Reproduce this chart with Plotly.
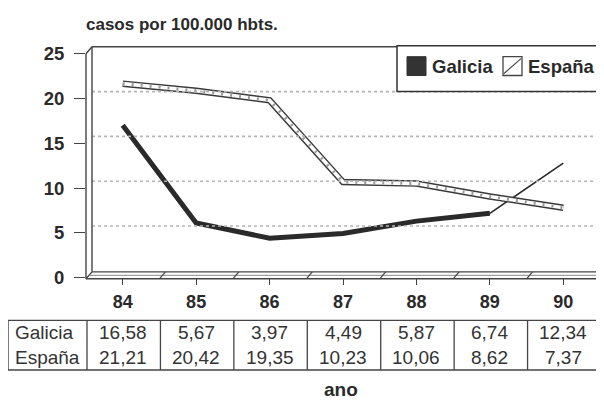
import plotly.graph_objects as go

# ---- data ----
years = ["84", "85", "86", "87", "88", "89", "90"]
galicia = [16.58, 5.67, 3.97, 4.49, 5.87, 6.74, 12.34]
espana = [21.21, 20.42, 19.35, 10.23, 10.06, 8.62, 7.37]
y_ticks = [0, 5, 10, 15, 20, 25]
series_names = ["Galicia", "España"]
title_text = "casos por 100.000 hbts."
x_title = "ano"

W, H = 604, 403
FONT = "Liberation Sans, Arial, Helvetica, sans-serif"
INK = "#2a2a2a"

# mapping from target picture pixels to paper fractions
# (page offsets the figure by 8px horizontally; vertical offset/scale measured)
OFFX, OFFY, SY = 8.0, 17.0, 0.956


def px(x):
    return (x - OFFX) / W


def py(y):
    return 1 - ((y - OFFY) / SY) / H


# plot geometry (target pixels)
X0, X1 = 86, 600
Y0, Y1 = 278, 52
DX, DY = 6, 7  # depth of the 3D frame
n = len(years)
step = (X1 - X0) / n
unit = (Y0 - Y1) / 25.0

fig = go.Figure()

# anchor trace for the front (labelled) axes
fig.add_trace(go.Scatter(x=years, y=[None] * n, mode="markers",
                         marker=dict(opacity=0), showlegend=False,
                         hoverinfo="skip"))
# Galicia: thick up to 89, thin from 89 to 90
fig.add_trace(go.Scatter(x=years[:6], y=galicia[:6], mode="lines", yaxis="y2",
                         line=dict(color=INK, width=5), showlegend=False,
                         hoverinfo="skip"))
fig.add_trace(go.Scatter(x=years[5:], y=galicia[5:], mode="lines", yaxis="y2",
                         line=dict(color=INK, width=1.6), showlegend=False,
                         hoverinfo="skip"))
# España: hollow hatched ribbon
fig.add_trace(go.Scatter(x=years, y=espana, mode="lines", yaxis="y2",
                         line=dict(color="#3a3a3a", width=6.5), showlegend=False,
                         hoverinfo="skip"))
fig.add_trace(go.Scatter(x=years, y=espana, mode="lines", yaxis="y2",
                         line=dict(color="white", width=3.6), showlegend=False,
                         hoverinfo="skip"))
fig.add_trace(go.Scatter(x=years, y=espana, mode="lines", yaxis="y2",
                         line=dict(color="#9a9a9a", width=3.0, dash="2px,7px"),
                         showlegend=False, hoverinfo="skip"))

shapes = []
LC = "#444444"


def seg(x0, y0, x1, y1, color=LC, width=1.4, dash=None):
    d = dict(type="line", xref="paper", yref="paper",
             x0=px(x0), y0=py(y0), x1=px(x1), y1=py(y1),
             line=dict(color=color, width=width))
    if dash:
        d["line"]["dash"] = dash
    shapes.append(d)


# back-wall gridlines (dotted)
for v in y_ticks[1:-1]:
    yy = Y0 - unit * v - DY
    seg(X0 + DX, yy, W, yy, color="#b5b5b5", width=1.6, dash="dot")

# 3D frame
seg(X0, Y0 + 1, X0, Y1)                      # front-left edge
seg(X0 + DX, Y0 + 1 - DY, X0 + DX, Y1 - DY)  # back-left edge
seg(X0, Y1, X0 + DX, Y1 - DY)                # top-left diagonal
seg(X0 + DX, Y1 - DY, W, Y1 - DY)            # top edge of back wall
seg(X0, Y0 + 1, X0 + DX, Y0 + 1 - DY)        # bottom-left diagonal
seg(X0 + DX, Y0 + 1 - DY, W, Y0 + 1 - DY)    # floor back edge
seg(X0, Y0 + 1, W, Y0 + 1)                   # floor front edge
seg(X0 + 3, Y0 - 2.5, W, Y0 - 2.5, color="#888888", width=1)
# floor dividers between categories
for k in range(1, n):
    xb = X0 + step * k
    seg(xb, Y0 + 1, xb + DX, Y0 + 1 - DY, width=1.2)

# legend box
LX0, LY0, LY1 = 397, 44, 90
shapes.append(dict(type="rect", xref="paper", yref="paper",
                   x0=px(LX0), y0=py(LY1), x1=px(603), y1=py(LY0),
                   line=dict(color="#333333", width=1.5), fillcolor="white"))
shapes.append(dict(type="rect", xref="paper", yref="paper",
                   x0=px(407), y0=py(74), x1=px(426), y1=py(55),
                   line=dict(color="#333333", width=1), fillcolor="#333333"))
shapes.append(dict(type="rect", xref="paper", yref="paper",
                   x0=px(503), y0=py(74), x1=px(522), y1=py(55),
                   line=dict(color="#444444", width=1.3), fillcolor="white"))
seg(504, 72, 521, 57, width=1.1)

# data table frame
TX0, TX1, TY0, TY1 = 8, 601, 321, 371
shapes.append(dict(type="rect", xref="paper", yref="paper",
                   x0=px(TX0), y0=py(TY1), x1=px(TX1), y1=py(TY0),
                   line=dict(color="#444444", width=1.4)))
for k in range(n):
    xb = X0 + 1 + step * k
    seg(xb, TY0, xb, TY1, width=1.3)

annotations = []
annotations.append(dict(text=title_text, xref="paper", yref="paper",
                        x=px(84), y=py(23), xanchor="left", yanchor="middle",
                        showarrow=False,
                        font=dict(family=FONT, size=17, color=INK, weight="bold")))
annotations.append(dict(text=x_title, xref="paper", yref="paper",
                        x=px(341), y=py(391), xanchor="center", yanchor="middle",
                        showarrow=False,
                        font=dict(family=FONT, size=19, color=INK, weight="bold")))
# legend texts
annotations.append(dict(text=series_names[0], xref="paper", yref="paper",
                        x=px(430), y=py(65), xanchor="left", yanchor="middle",
                        showarrow=False,
                        font=dict(family=FONT, size=18.5, color=INK, weight="bold")))
annotations.append(dict(text=series_names[1], xref="paper", yref="paper",
                        x=px(526), y=py(65), xanchor="left", yanchor="middle",
                        showarrow=False,
                        font=dict(family=FONT, size=18.5, color=INK, weight="bold")))
# table texts
row_y = [333, 358]
for name, vals, ry in zip(series_names, [galicia, espana], row_y):
    annotations.append(dict(text=name, xref="paper", yref="paper",
                            x=px(13), y=py(ry), xanchor="left", yanchor="middle",
                            showarrow=False,
                            font=dict(family=FONT, size=19, color="#333333")))
    for k, v in enumerate(vals):
        annotations.append(dict(text=f"{v:.2f}".replace(".", ","),
                                xref="x", yref="paper", x=k, y=py(ry),
                                xanchor="center", yanchor="middle",
                                showarrow=False,
                                font=dict(family=FONT, size=19, color="#333333")))

fig.update_layout(
    width=W, height=H, autosize=False,
    margin=dict(l=0, r=0, t=0, b=0),
    paper_bgcolor="white", plot_bgcolor="rgba(0,0,0,0)",
    showlegend=False,
    xaxis=dict(type="category", categoryorder="array", categoryarray=years,
               domain=[px(X0), px(X1)], range=[-0.5, n - 0.5],
               anchor="y",
               showgrid=False, zeroline=False, showline=False,
               ticks="outside", ticklen=6, tickwidth=1.2, tickcolor=LC,
               ticklabelstandoff=2,
               tickfont=dict(family=FONT, size=18, color=INK, weight="bold"),
               fixedrange=True),
    yaxis=dict(domain=[py(Y0), py(Y1)], range=[0, 25], tickvals=y_ticks,
               anchor="x",
               showgrid=False, zeroline=False, showline=False,
               ticks="outside", ticklen=11, tickwidth=1.4, tickcolor=LC,
               ticklabelstandoff=6,
               tickfont=dict(family=FONT, size=18.5, color=INK, weight="bold"),
               fixedrange=True),
    yaxis2=dict(overlaying="y", anchor="x", range=[-0.45, 24.55],
                domain=[py(Y0), py(Y1)],
                showgrid=False, zeroline=False, showline=False,
                showticklabels=False, ticks="", fixedrange=True),
    shapes=shapes,
    annotations=annotations,
)

fig.write_html("out.html", config={"displayModeBar": False})
